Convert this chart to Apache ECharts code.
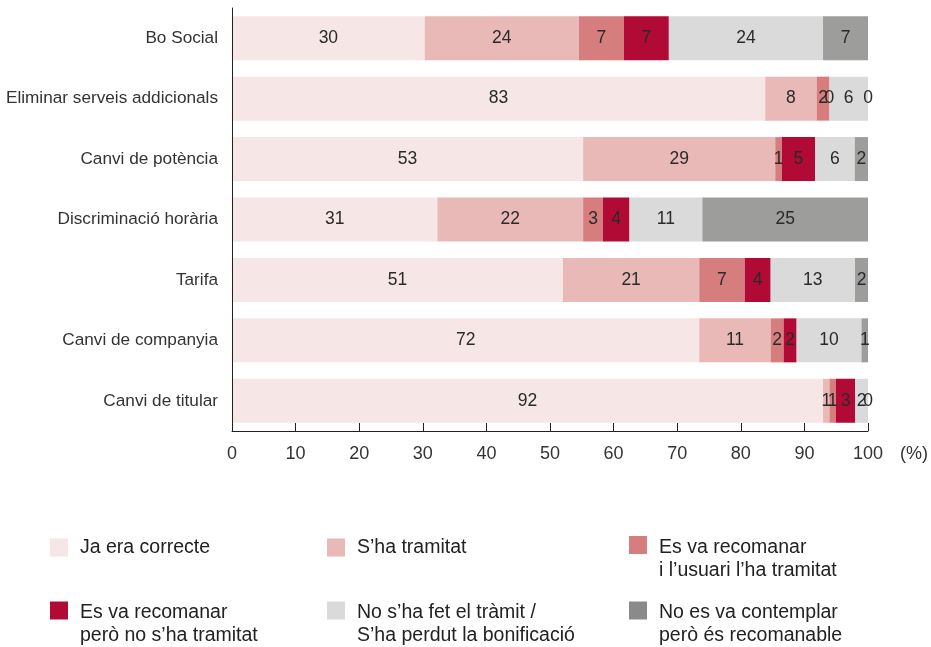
<!DOCTYPE html>
<html>
<head>
<meta charset="utf-8">
<script src="https://cdn.jsdelivr.net/npm/echarts@6/dist/echarts.min.js"></script>
<style>html,body{margin:0;padding:0;background:#fff}#c{width:931px;height:647px}</style>
</head>
<body>
<div id="c"></div>
<script>
const categories = ['Bo Social', 'Eliminar serveis addicionals', 'Canvi de potència', 'Discriminació horària', 'Tarifa', 'Canvi de companyia', 'Canvi de titular'];
const seriesNames = ['Ja era correcte', 'S\u2019ha tramitat', 'Es va recomanar\ni l\u2019usuari l\u2019ha tramitat', 'Es va recomanar\nperò no s\u2019ha tramitat', 'No s\u2019ha fet el tràmit /\nS\u2019ha perdut la bonificació', 'No es va contemplar\nperò és recomanable'];
const jaEraCorrecte = [30, 83, 53, 31, 51, 72, 92];
const shaTramitat = [24, 8, 29, 22, 21, 11, 1];
const recomanarTramitat = [7, 2, 1, 3, 7, 2, 1];
const recomanarNoTramitat = [7, 0, 5, 4, 4, 2, 3];
const noFetTramit = [24, 6, 6, 11, 13, 10, 2];
const noContemplat = [7, 0, 2, 25, 2, 1, 0];
const xTicks = [0, 10, 20, 30, 40, 50, 60, 70, 80, 90, 100];

const colors = ['#f7e6e6', '#e9b9b8', '#d67d7d', '#b10a35', '#dadada', '#9d9d9c'];
const legendColors = ['#f7e6e6', '#e9b9b8', '#d67d7d', '#b10a35', '#dadada', '#8a8a8a'];
const raw = [jaEraCorrecte, shaTramitat, recomanarTramitat, recomanarNoTramitat, noFetTramit, noContemplat];
const sums = categories.map((_, i) => raw.reduce((s, arr) => s + arr[i], 0));

const FONT = '"Liberation Sans", Arial, sans-serif';
const series = raw.map((arr, k) => ({
  name: seriesNames[k],
  type: 'bar',
  stack: 'total',
  barWidth: 44,
  itemStyle: { color: colors[k] },
  label: {
    show: true,
    position: 'inside',
    color: '#2a2a2a',
    fontSize: 17.5,
    fontFamily: FONT,
    formatter: p => String(arr[p.dataIndex])
  },
  emphasis: { disabled: true },
  data: arr.map((v, i) => v / sums[i] * 100)
}));

const legendPos = [[50, 536], [327, 536], [629, 536], [50, 601.5], [327, 601.5], [629, 601.5]];
const twoLineIcon = 'path://M0,0L18,0L18,18L0,18Z M18,46';
const legends = seriesNames.map((n, k) => {
  const two = n.indexOf('\n') >= 0;
  return {
    left: legendPos[k][0],
    top: legendPos[k][1],
    padding: 0,
    itemWidth: 18,
    itemHeight: two ? 46 : 18,
    selectedMode: false,
    icon: two ? twoLineIcon : 'rect',
    data: [{ name: n, itemStyle: { color: legendColors[k] } }],
    textStyle: {
      fontSize: 19.5,
      fontFamily: FONT,
      color: '#222',
      lineHeight: 23,
      padding: [0, 0, 0, 7]
    }
  };
});

const chart = echarts.init(document.getElementById('c'), null, { renderer: 'canvas' });
chart.setOption({
  animation: false,
  backgroundColor: '#fff',
  grid: { left: 232, right: 63, top: 8, bottom: 216, containLabel: false },
  legend: legends,
  xAxis: {
    type: 'value',
    z: 5,
    min: 0,
    max: 100,
    interval: 10,
    name: '(%)',
    nameLocation: 'end',
    nameGap: 32,
    nameTextStyle: { fontSize: 18, fontFamily: FONT, color: '#333', align: 'left', verticalAlign: 'top', padding: [14, 0, 0, 0] },
    axisLine: { show: true, lineStyle: { color: '#222', width: 1 } },
    axisTick: { show: true, inside: true, length: 8, lineStyle: { color: '#222' } },
    splitLine: { show: false },
    axisLabel: { fontSize: 18, fontFamily: FONT, color: '#333', margin: 14, formatter: v => xTicks.includes(v) ? String(v) : '' }
  },
  yAxis: {
    type: 'category',
    z: 5,
    inverse: true,
    data: categories,
    axisLine: { show: true, lineStyle: { color: '#222', width: 1 } },
    axisTick: { show: false },
    axisLabel: { fontSize: 17.2, fontFamily: FONT, color: '#333', margin: 14 }
  },
  series: series
});
</script>
</body>
</html>
